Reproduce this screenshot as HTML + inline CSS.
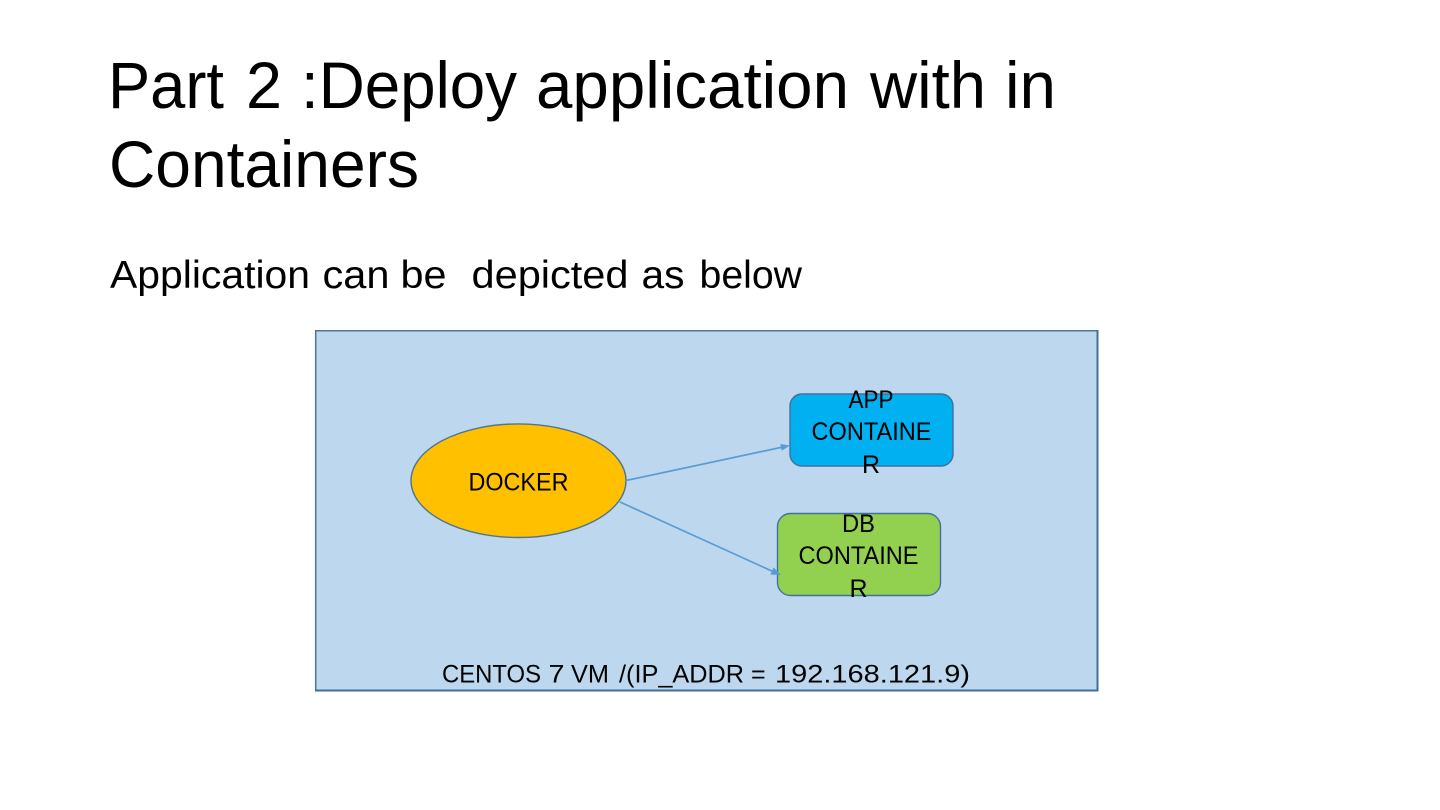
<!DOCTYPE html>
<html>
<head>
<meta charset="utf-8">
<style>
html,body{margin:0;padding:0;background:#fff;width:1440px;height:810px;overflow:hidden}
svg{display:block}
text{font-family:"Liberation Sans",sans-serif;fill:#000}
</style>
</head>
<body>
<svg width="1440" height="810" viewBox="0 0 1440 810" xmlns="http://www.w3.org/2000/svg">
<g font-size="66">
<text x="108" y="108" textLength="116" lengthAdjust="spacingAndGlyphs">Part</text>
<text x="246" y="108" textLength="36" lengthAdjust="spacingAndGlyphs">2</text>
<text x="301" y="108" textLength="216" lengthAdjust="spacingAndGlyphs">:Deploy</text>
<text x="536" y="108" textLength="313" lengthAdjust="spacingAndGlyphs">application</text>
<text x="870" y="108" textLength="116" lengthAdjust="spacingAndGlyphs">with</text>
<text x="1005" y="108" textLength="51" lengthAdjust="spacingAndGlyphs">in</text>
<text x="109" y="187" textLength="310" lengthAdjust="spacingAndGlyphs">Containers</text>
</g>
<g font-size="39">
<text x="110" y="288" textLength="200" lengthAdjust="spacingAndGlyphs">Application</text>
<text x="322.500" y="288" textLength="67" lengthAdjust="spacingAndGlyphs">can</text>
<text x="400.500" y="288" textLength="46" lengthAdjust="spacingAndGlyphs">be</text>
<text x="471.500" y="288" textLength="157" lengthAdjust="spacingAndGlyphs">depicted</text>
<text x="641.500" y="288" textLength="43" lengthAdjust="spacingAndGlyphs">as</text>
<text x="699.500" y="288" textLength="102.500" lengthAdjust="spacingAndGlyphs">below</text>
</g>

<rect x="316" y="331" width="781" height="359.500" fill="#bdd7ee"/>
<path d="M315.700 691 V330.700 H1097" fill="none" stroke="#4f7596" stroke-width="1.500"/>
<path d="M1097.500 330 V690.500 H315" fill="none" stroke="#3f709b" stroke-width="2"/>

<ellipse cx="518.500" cy="480.700" rx="107.500" ry="56.800" fill="#ffc000" stroke="#4f7690" stroke-width="1.400"/>
<rect x="790" y="394" width="163" height="72" rx="12" fill="#00b0f0" stroke="#41719c" stroke-width="1.400"/>
<rect x="777.500" y="513.500" width="163" height="82" rx="13" fill="#92d050" stroke="#41719c" stroke-width="1.400"/>

<line x1="626" y1="480.500" x2="783" y2="447" stroke="#5b9bd5" stroke-width="1.700"/>
<polygon points="790,445.500 781.700,450.800 780.300,444" fill="#5b9bd5"/>
<line x1="620" y1="502" x2="774" y2="572" stroke="#5b9bd5" stroke-width="1.700"/>
<polygon points="781,575 770.400,574.600 773.600,567.400" fill="#5b9bd5"/>

<text x="518.500" y="490.500" font-size="25" text-anchor="middle" textLength="100" lengthAdjust="spacingAndGlyphs">DOCKER</text>
<text x="871" y="408" font-size="25" text-anchor="middle" textLength="45" lengthAdjust="spacingAndGlyphs">APP</text>
<text x="871.500" y="440" font-size="25" text-anchor="middle" textLength="120" lengthAdjust="spacingAndGlyphs">CONTAINE</text>
<text x="871" y="473" font-size="25" text-anchor="middle">R</text>
<text x="858.500" y="532" font-size="25" text-anchor="middle" textLength="33" lengthAdjust="spacingAndGlyphs">DB</text>
<text x="858.500" y="564" font-size="25" text-anchor="middle" textLength="120" lengthAdjust="spacingAndGlyphs">CONTAINE</text>
<text x="858.500" y="597" font-size="25" text-anchor="middle">R</text>

<g font-size="25">
<text x="442" y="682.500" textLength="99" lengthAdjust="spacingAndGlyphs">CENTOS</text>
<text x="548.500" y="682.500" textLength="16" lengthAdjust="spacingAndGlyphs">7</text>
<text x="571" y="682.500" textLength="38" lengthAdjust="spacingAndGlyphs">VM</text>
<text x="619" y="682.500" textLength="125" lengthAdjust="spacingAndGlyphs">/(IP_ADDR</text>
<text x="751" y="682.500">=</text>
<text x="775" y="682.500" textLength="195" lengthAdjust="spacingAndGlyphs">192.168.121.9)</text>
</g>
</svg>
</body>
</html>
